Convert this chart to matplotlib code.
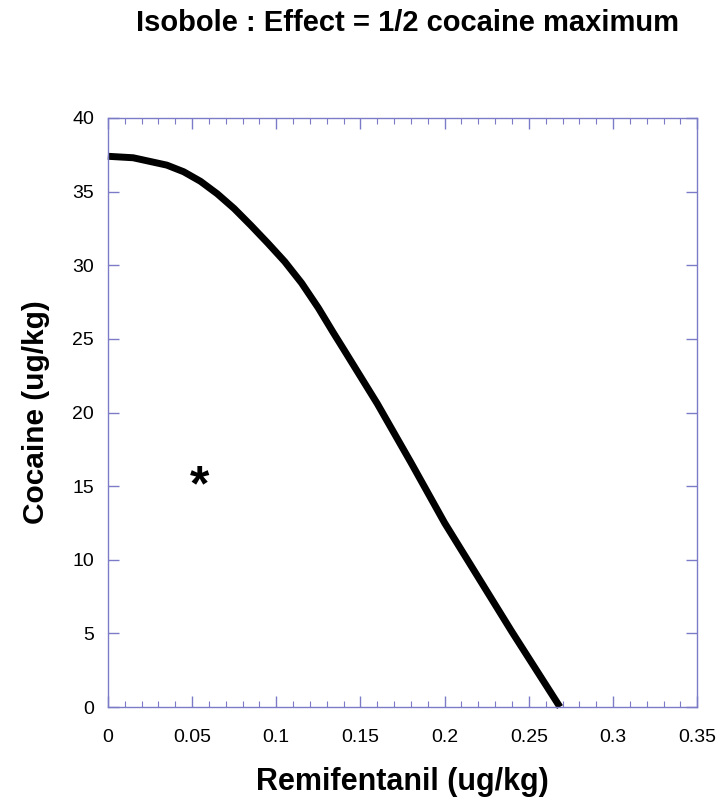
# Isobole chart: remifentanil vs cocaine
import numpy as np
import matplotlib.pyplot as plt
from matplotlib import font_manager as fm
from matplotlib.ticker import MultipleLocator

# --- data ---
remi = [0, 0.015, 0.035, 0.045, 0.055, 0.065, 0.075, 0.085, 0.095,
        0.105, 0.115, 0.125, 0.134, 0.14, 0.16, 0.18, 0.2, 0.22, 0.24, 0.2685]
cocaine = [37.4, 37.3, 36.8, 36.35, 35.7, 34.85, 33.85, 32.7, 31.5,
           30.25, 28.8, 27.1, 25.4, 24.3, 20.6, 16.6, 12.5, 8.8, 5.1, 0]
point_x = [0.0547]
point_y = [15.7]

x_ticks = [0, 0.05, 0.1, 0.15, 0.2, 0.25, 0.3, 0.35]
x_labels = ['0', '0.05', '0.1', '0.15', '0.2', '0.25', '0.3', '0.35']
y_ticks = [0, 5, 10, 15, 20, 25, 30, 35, 40]

axis_col = '#7b7bc8'
plt.rcParams['font.family'] = ['Liberation Sans', 'DejaVu Sans']

# narrow face for the title if it is installed
try:
    fm.findfont(fm.FontProperties(family='Liberation Sans Narrow', weight='bold'),
                fallback_to_default=False)
    title_font, title_size = 'Liberation Sans Narrow', 24
except Exception:
    title_font, title_size = 'Liberation Sans', 21

fig = plt.figure(figsize=(7.24, 8.06), dpi=100)
ax = fig.add_axes([0.149, 0.1228, 0.814, 0.7308])

ax.plot(remi, cocaine, color='black', lw=5, solid_capstyle='butt',
        solid_joinstyle='round', clip_on=False)
ax.annotate('*', (point_x[0], point_y[0]), xytext=(0, -6),
            textcoords='offset pixels', fontsize=36, fontweight='bold',
            ha='center', va='center_baseline')

ax.set_xlim(0, 0.35)
ax.set_ylim(0, 40)
ax.set_xticks(x_ticks)
ax.set_xticklabels(x_labels)
ax.set_yticks(y_ticks)
ax.xaxis.set_minor_locator(MultipleLocator(0.01))

for s in ax.spines.values():
    s.set_color(axis_col)
    s.set_linewidth(1)

ax.tick_params(axis='both', which='both', direction='in', colors=axis_col,
               labelcolor='black', labelsize=14)
ax.tick_params(axis='x', which='both', top=True, pad=16)
ax.tick_params(axis='y', which='both', right=True, pad=10)
ax.tick_params(which='major', length=8, width=1)
ax.tick_params(which='minor', length=4, width=0.8)

ax.set_xlabel('Remifentanil (ug/kg)', fontsize=22, fontweight='bold', labelpad=15)
ax.set_ylabel('Cocaine (ug/kg)', fontsize=21.5, fontweight='bold', labelpad=16)

fig.text(0.563, 0.972, 'Isobole : Effect = 1/2 cocaine maximum',
         fontsize=title_size, fontweight='bold', ha='center', va='center',
         family=[title_font, 'DejaVu Sans'])

fig.savefig('out.png', dpi=100)
